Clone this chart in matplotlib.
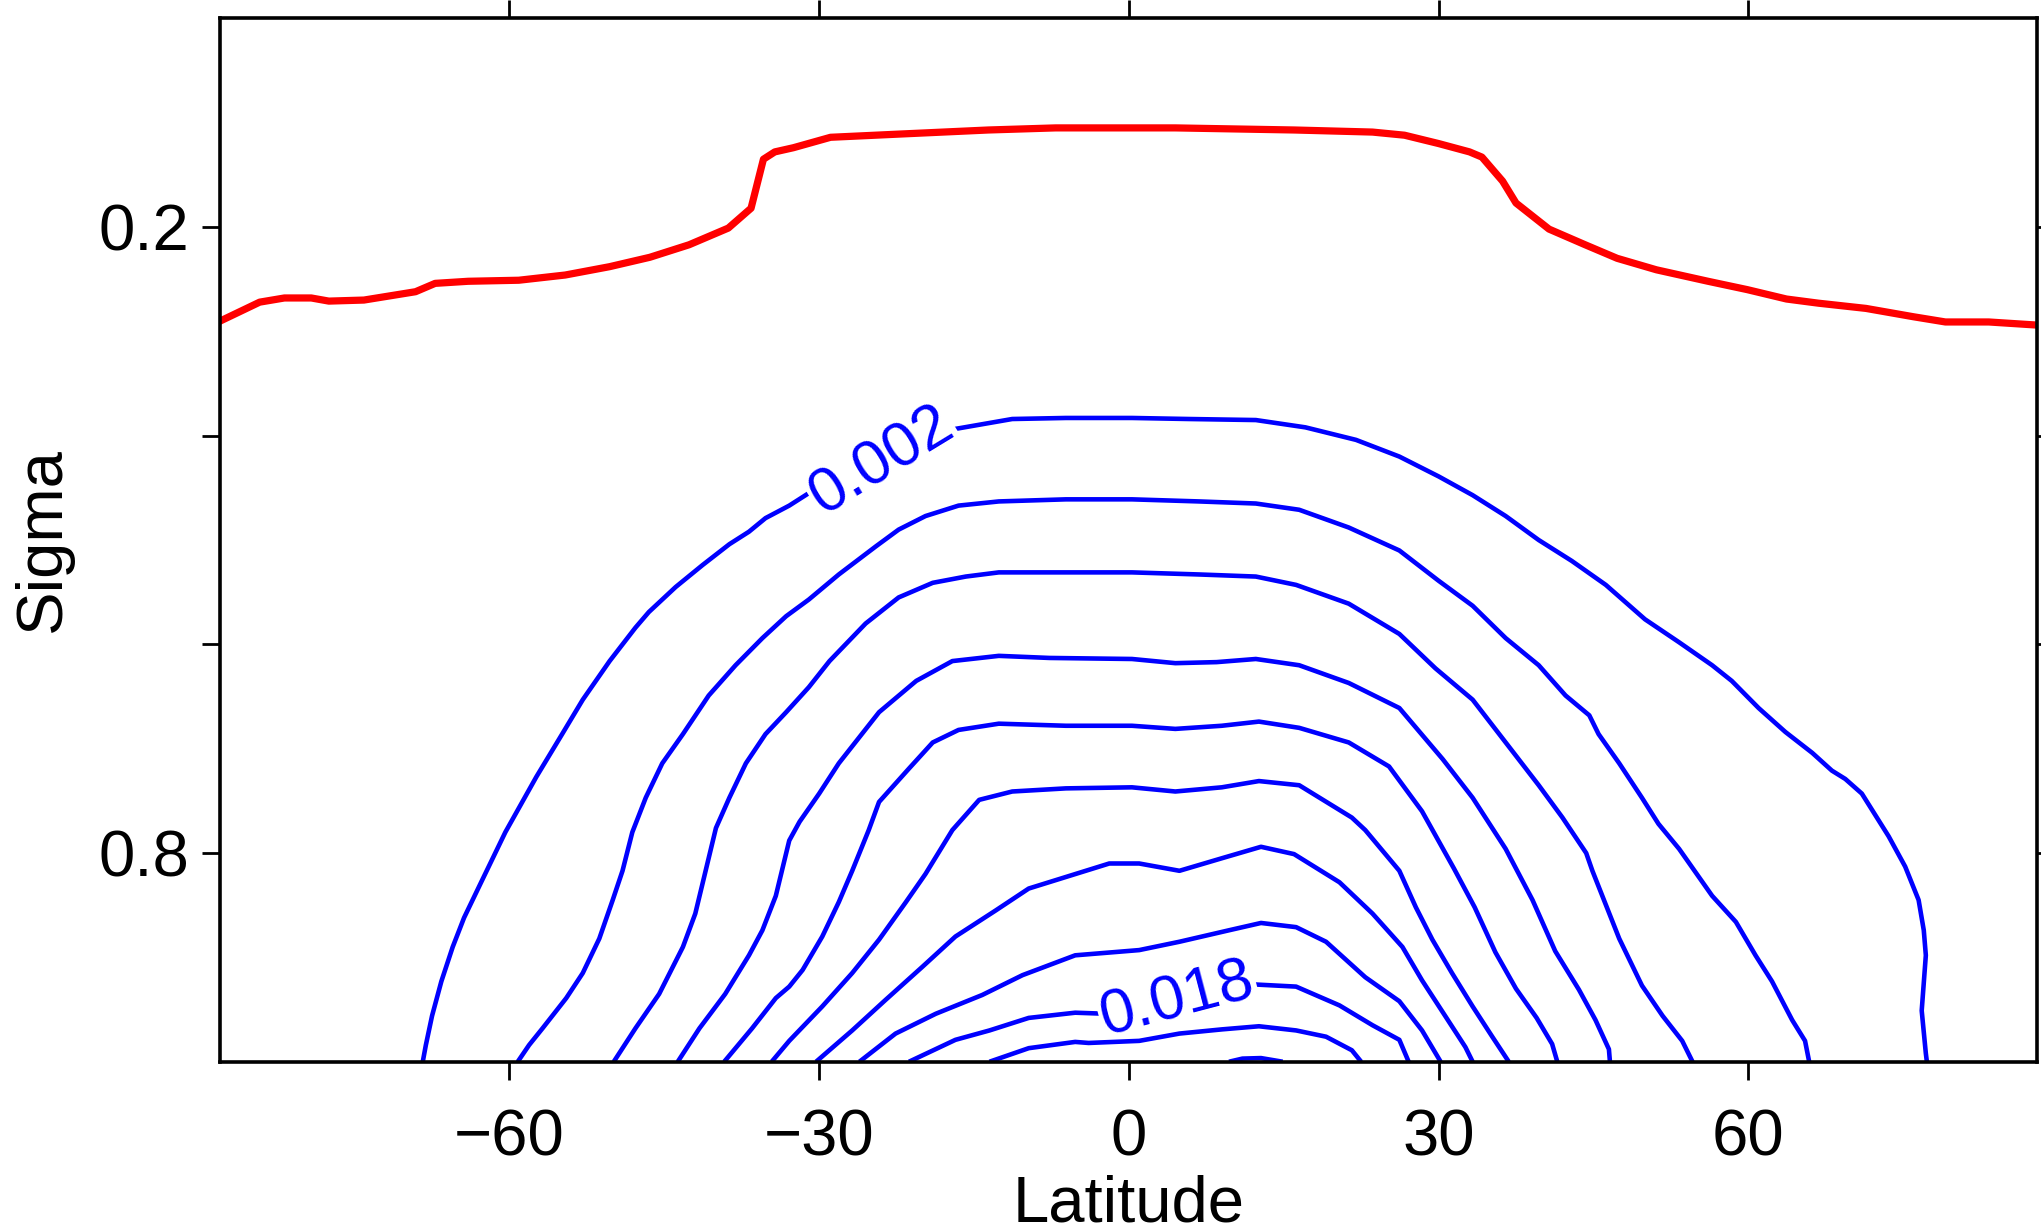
import numpy as np
import matplotlib
matplotlib.use('Agg')
import matplotlib.pyplot as plt
from matplotlib.contour import ContourSet

plt.rcParams['font.family'] = ['Liberation Sans', 'DejaVu Sans']

# contour levels of the humidity field
levels = [0.002, 0.004, 0.006, 0.008, 0.010, 0.012, 0.014, 0.016, 0.018, 0.020, 0.022]
label_levels = [0.002, 0.018]

# each contour as (latitude, sigma)
q002_lat = [-68.4, -68.1, -67.5, -66.6, -65.5, -64.4, -62.6, -60.4, -57.4, -54.9, -52.9, -50.3, -47.8, -46.5,
            -43.9, -41.3, -38.7, -36.8, -35.2, -32.9, -31.0, -27.5, -24.0, -20.5, -17.1, -11.3, -6.1, 0.3, 5.8,
            12.3, 17.1, 22.0, 26.2, 30.0, 33.3, 36.5, 39.7, 42.9, 46.2, 50.0, 53.3, 56.5, 58.4, 61.0, 63.6, 66.2,
            68.1, 69.4, 71.0, 73.6, 75.2, 76.5, 77.0, 77.2, 76.8, 77.2, 77.3]
q002_sig = [1.0, 0.984, 0.956, 0.923, 0.890, 0.862, 0.825, 0.780, 0.727, 0.686, 0.653, 0.616, 0.584, 0.569,
            0.545, 0.524, 0.504, 0.492, 0.479, 0.467, 0.455, 0.441, 0.424, 0.408, 0.394, 0.384, 0.383, 0.383, 0.384,
            0.385, 0.392, 0.404, 0.420, 0.439, 0.457, 0.477, 0.500, 0.520, 0.543, 0.576, 0.598, 0.620, 0.635, 0.661,
            0.684, 0.704, 0.721, 0.729, 0.743, 0.784, 0.813, 0.845, 0.874, 0.898, 0.951, 0.992, 1.0]

q004_lat = [-59.2, -58.1, -56.8, -54.5, -52.9, -51.3, -50.0, -49.05, -48.1, -46.8, -45.2, -43.2, -40.7, -38.1,
            -35.5, -33.2, -31.0, -28.1, -24.5, -22.3, -19.7, -16.5, -12.6, -6.1, 0.3, 6.8, 12.3, 16.5, 21.3, 26.2,
            30.0, 33.3, 36.5, 39.7, 42.3, 44.6, 45.5, 47.5, 49.7, 51.3, 53.3, 56.5, 58.8, 60.7, 62.3, 64.25, 65.5,
            65.9]
q004_sig = [1.0, 0.984, 0.968, 0.939, 0.915, 0.882, 0.845, 0.817, 0.780, 0.747, 0.714, 0.686, 0.649, 0.620,
            0.594, 0.573, 0.557, 0.533, 0.506, 0.490, 0.477, 0.467, 0.463, 0.461, 0.461, 0.463, 0.465, 0.471, 0.488,
            0.510, 0.539, 0.563, 0.594, 0.620, 0.649, 0.668, 0.686, 0.714, 0.747, 0.772, 0.796, 0.841, 0.866, 0.898,
            0.923, 0.960, 0.980, 1.0]

q006_lat = [-49.9, -47.8, -45.5, -43.2, -42.0, -41.0, -40.0, -38.7, -37.1, -35.2, -33.2, -31.0, -29.0, -25.5,
            -22.3, -19.0, -15.8, -12.6, -6.1, 0.3, 6.8, 12.3, 16.2, 21.3, 26.2, 29.7, 33.3, 36.5, 39.7, 42.0, 44.3,
            44.9, 47.5, 49.7, 51.7, 53.6, 54.6]
q006_sig = [1.0, 0.968, 0.935, 0.890, 0.858, 0.817, 0.776, 0.747, 0.714, 0.686, 0.665, 0.641, 0.616, 0.580,
            0.555, 0.541, 0.535, 0.531, 0.531, 0.531, 0.533, 0.535, 0.543, 0.561, 0.590, 0.623, 0.653, 0.694, 0.735,
            0.766, 0.800, 0.817, 0.882, 0.927, 0.956, 0.980, 1.0]

q008_lat = [-43.7, -41.6, -39.1, -36.8, -35.5, -34.2, -32.9, -31.9, -30.0, -28.1, -24.2, -20.6, -17.1, -12.6,
            -7.7, 0.3, 4.5, 8.5, 12.3, 16.5, 21.3, 26.2, 30.4, 33.3, 36.5, 39.1, 41.3, 43.6, 45.2, 46.5, 46.6]
q008_sig = [1.0, 0.968, 0.935, 0.898, 0.874, 0.841, 0.788, 0.770, 0.743, 0.714, 0.665, 0.635, 0.616, 0.611,
            0.613, 0.614, 0.618, 0.617, 0.614, 0.620, 0.637, 0.661, 0.710, 0.747, 0.796, 0.845, 0.894, 0.931, 0.960,
            0.988, 1.0]

q010_lat = [-39.2, -36.5, -34.2, -32.9, -31.6, -29.7, -28.1, -26.8, -25.2, -24.2, -21.3, -19.0, -16.5, -12.6,
            -6.1, 0.3, 4.5, 9.0, 12.6, 16.5, 21.3, 25.2, 28.4, 31.5, 33.5, 35.5, 37.5, 39.5, 41.0, 41.5]
q010_sig = [1.0, 0.968, 0.939, 0.928, 0.912, 0.880, 0.847, 0.817, 0.778, 0.751, 0.719, 0.694, 0.682, 0.676,
            0.678, 0.678, 0.681, 0.678, 0.674, 0.680, 0.694, 0.717, 0.760, 0.815, 0.852, 0.895, 0.930, 0.958, 0.983,
            1.0]

q012_lat = [-34.6, -32.9, -29.7, -26.8, -24.2, -21.6, -19.7, -17.1, -14.5, -11.3, -6.1, 0.3, 4.5, 9.0, 12.6,
            16.5, 21.6, 22.9, 26.2, 27.8, 29.4, 31.3, 33.3, 35.2, 35.8, 36.8]
q012_sig = [1.0, 0.980, 0.947, 0.915, 0.883, 0.847, 0.820, 0.778, 0.749, 0.741, 0.738, 0.737, 0.741, 0.737,
            0.731, 0.735, 0.766, 0.778, 0.817, 0.852, 0.883, 0.915, 0.947, 0.976, 0.985, 1.0]

q014_lat = [-30.3, -26.8, -23.6, -20.0, -16.8, -12.9, -9.7, -4.5, -1.9, 1.0, 4.9, 9.0, 12.8, 16.0, 20.4, 23.6,
            26.5, 28.4, 30.7, 32.6, 33.3]
q014_sig = [1.0, 0.970, 0.941, 0.909, 0.880, 0.855, 0.834, 0.818, 0.810, 0.810, 0.817, 0.805, 0.794, 0.801,
            0.828, 0.858, 0.890, 0.922, 0.957, 0.986, 1.0]

q016_lat = [-26.1, -22.6, -18.7, -14.2, -10.3, -5.2, 1.0, 4.9, 9.7, 12.8, 16.2, 19.1, 22.9, 26.2, 28.4, 30.2]
q016_sig = [1.0, 0.973, 0.954, 0.936, 0.917, 0.898, 0.893, 0.885, 0.874, 0.867, 0.871, 0.885, 0.919, 0.942,
            0.970, 1.0]

q018_lat = [-21.3, -16.8, -13.5, -9.7, -5.2, -2.3, 1.5, 5.0, 8.5, 12.3, 16.2, 20.4, 23.6, 26.2, 27.1]
q018_sig = [1.0, 0.979, 0.970, 0.958, 0.953, 0.954, 0.947, 0.940, 0.933, 0.926, 0.928, 0.946, 0.965, 0.979, 1.0]

q020_lat = [-13.5, -9.7, -5.2, -3.9, 1.0, 4.9, 9.0, 12.6, 16.2, 19.1, 21.6, 22.5]
q020_sig = [1.0, 0.987, 0.981, 0.982, 0.980, 0.973, 0.969, 0.966, 0.970, 0.976, 0.989, 1.0]

q022_lat = [9.7, 11.0, 12.8, 14.9]
q022_sig = [1.0, 0.997, 0.9965, 1.0]

# red line near the top (tropopause)
trop_lat = [-88.0, -86.1, -84.2, -81.8, -79.2, -77.5, -74.1, -71.6, -69.1, -67.2, -64.0, -59.1, -54.6, -50.3,
            -46.4, -42.6, -38.8, -36.6, -35.4, -34.3, -32.5, -28.9, -22.4, -13.6, -7.1, 4.5, 16.0, 23.6, 26.7,
            30.0, 33.0, 34.2, 36.2, 37.5, 40.7, 44.2, 47.3, 51.1, 56.1, 59.9, 63.7, 66.8, 71.4, 76.0, 79.1, 83.3,
            88.0]
trop_sig = [0.290, 0.281, 0.272, 0.268, 0.268, 0.271, 0.270, 0.266, 0.262, 0.254, 0.252, 0.251, 0.246, 0.238,
            0.229, 0.217, 0.201, 0.182, 0.135, 0.128, 0.124, 0.114, 0.111, 0.107, 0.105, 0.105, 0.107, 0.109,
            0.112, 0.120, 0.128, 0.133, 0.156, 0.177, 0.202, 0.217, 0.230, 0.241, 0.252, 0.260, 0.269, 0.273,
            0.278, 0.286, 0.291, 0.291, 0.294]

lat_ticks = [-60, -30, 0, 30, 60]
sig_ticks = [0.2, 0.4, 0.6, 0.8]
sig_ticklabels = ['0.2', '', '', '0.8']

contour_lines = [(q002_lat, q002_sig), (q004_lat, q004_sig), (q006_lat, q006_sig), (q008_lat, q008_sig),
                 (q010_lat, q010_sig), (q012_lat, q012_sig), (q014_lat, q014_sig), (q016_lat, q016_sig),
                 (q018_lat, q018_sig), (q020_lat, q020_sig), (q022_lat, q022_sig)]

fig = plt.figure(figsize=(20.41, 12.31), dpi=100)
ax = fig.add_axes([0.1080, 0.1375, 0.8902, 0.8476])

# labelled contours go in their own set so clabel indexes them correctly
plain_lv, plain_segs, lab_lv, lab_segs = [], [], [], []
for lv, (la, si) in zip(levels, contour_lines):
    seg = [np.column_stack([la, si])]
    if lv in label_levels:
        lab_lv.append(lv)
        lab_segs.append(seg)
    else:
        plain_lv.append(lv)
        plain_segs.append(seg)

cs_plain = ContourSet(ax, plain_lv, plain_segs, colors='blue')
cs_lab = ContourSet(ax, lab_lv, lab_segs, colors='blue')
for c in (cs_plain, cs_lab):
    c.set_linewidth(3.3)
    c.set_joinstyle('round')
ax.clabel(cs_lab, manual=[(-23.6, 0.428), (4.8, 0.943)], fmt='%.3f',
          fontsize=45, inline=False)
# y axis is inverted, so the angle clabel gives comes out mirrored;
# a white box behind each label opens the gap in its own line
for t in cs_lab.labelTexts:
    t.set_rotation(-t.get_rotation())
    t.set_bbox(dict(facecolor='white', edgecolor='none', pad=1.5))
# unlabelled contours stay above the label boxes
cs_plain.set_zorder(5)

ax.plot(trop_lat, trop_sig, color='red', lw=5.2, solid_joinstyle='round')

ax.set_xlim(-88, 88)
ax.set_ylim(1.0, 0.0)
ax.set_xticks(lat_ticks)
ax.set_yticks(sig_ticks)
ax.set_yticklabels(sig_ticklabels)

ax.tick_params(direction='out', length=13, width=2, labelsize=47, top=True, right=True)
ax.tick_params(axis='x', pad=21)
ax.tick_params(axis='y', pad=9.5)
for s in ax.spines.values():
    s.set_linewidth(2.6)
    s.set_zorder(6)

ax.set_xlabel('Latitude', fontsize=47, labelpad=4)
ax.set_ylabel('Sigma', fontsize=47, labelpad=18)

fig.savefig('out.png', dpi=100)
